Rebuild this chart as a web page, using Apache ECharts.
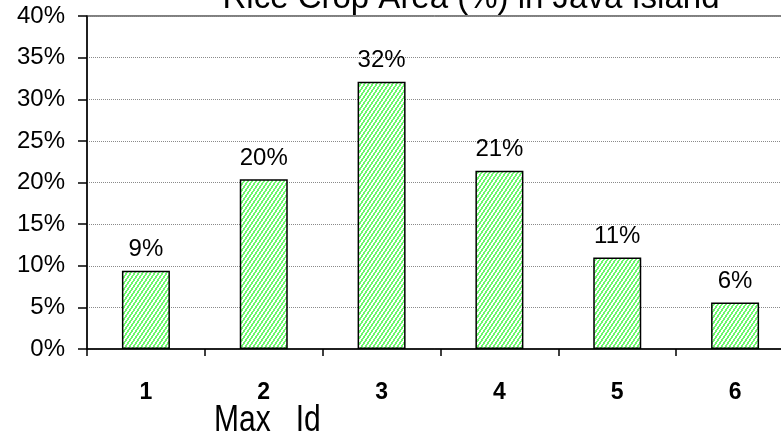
<!DOCTYPE html>
<html>
<head>
<meta charset="utf-8">
<script src="https://cdn.jsdelivr.net/npm/echarts@6/dist/echarts.min.js"></script>
<style>
  html, body { margin: 0; padding: 0; background: #fff; }
  #chart { width: 781px; height: 441px; }
</style>
</head>
<body>
<div id="chart"></div>
<script>
// Share of rice crop area per Max Id class
const categories = ['1', '2', '3', '4', '5', '6'];
const areaShare = [9.4, 20.4, 32.1, 21.4, 11.0, 5.6];
const yTicks = [0, 5, 10, 15, 20, 25, 30, 35, 40];

// Green diagonal hatch used as the bar fill
function makeHatch() {
  const c = document.createElement('canvas');
  c.width = 4; c.height = 6;
  const ctx = c.getContext('2d');
  ctx.fillStyle = '#ffffff';
  ctx.fillRect(0, 0, 4, 6);
  ctx.fillStyle = '#6cf86c';
  for (let y = 0; y < 6; y++) {
    const x = 3 - Math.floor(y / 1.5);
    ctx.fillRect(x, y, 2, 1);
    if (x + 2 > 4) ctx.fillRect(0, y, x + 2 - 4, 1);
  }
  return c;
}

const chart = echarts.init(document.getElementById('chart'), null, { renderer: 'canvas' });
const font = 'Liberation Sans, Arial, sans-serif';

chart.setOption({
  backgroundColor: '#ffffff',
  animation: false,
  title: {
    text: 'Rice Crop Area (%) in Java Island',
    left: 466, top: -23, textAlign: 'center',
    textStyle: { fontFamily: font, fontSize: 33, fontWeight: 'normal', color: '#000' }
  },
  grid: {
    left: 87, top: 16, width: 707, height: 333,
    outerBoundsMode: 'none', containLabel: false,
    show: true, borderColor: '#000', borderWidth: 1
  },
  xAxis: {
    type: 'category',
    data: categories,
    axisLine: { lineStyle: { color: '#000', width: 1.5 } },
    axisTick: { show: true, length: 7, lineStyle: { color: '#000', width: 1.5 } },
    axisLabel: { margin: 32, fontFamily: font, fontSize: 23, fontWeight: 'bold', color: '#000' }
  },
  yAxis: {
    type: 'value',
    min: yTicks[0], max: yTicks[yTicks.length - 1], interval: 5,
    axisLine: { show: true, lineStyle: { color: '#000', width: 1.5 } },
    axisTick: { show: true, length: 9, lineStyle: { color: '#000', width: 1.5 } },
    axisLabel: { margin: 22, fontFamily: font, fontSize: 24, color: '#000', formatter: v => v + '%' },
    splitLine: { show: true, lineStyle: { color: '#8a8a8a', width: 1, type: [1, 1] } }
  },
  series: [{
    type: 'bar',
    data: areaShare,
    barWidth: 48,
    itemStyle: {
      color: { image: makeHatch(), repeat: 'repeat' },
      borderColor: '#000', borderWidth: 1.5
    },
    label: {
      show: true, position: 'top', distance: 9,
      fontFamily: font, fontSize: 24, color: '#000',
      formatter: p => Math.round(p.value) + '%'
    }
  }],
  graphic: [{
    type: 'text',
    x: 214, y: 402, scaleY: 1.25,
    style: { text: 'Max   Id', font: '30px ' + font, fill: '#000', verticalAlign: 'top' }
  }]
});
</script>
</body>
</html>
